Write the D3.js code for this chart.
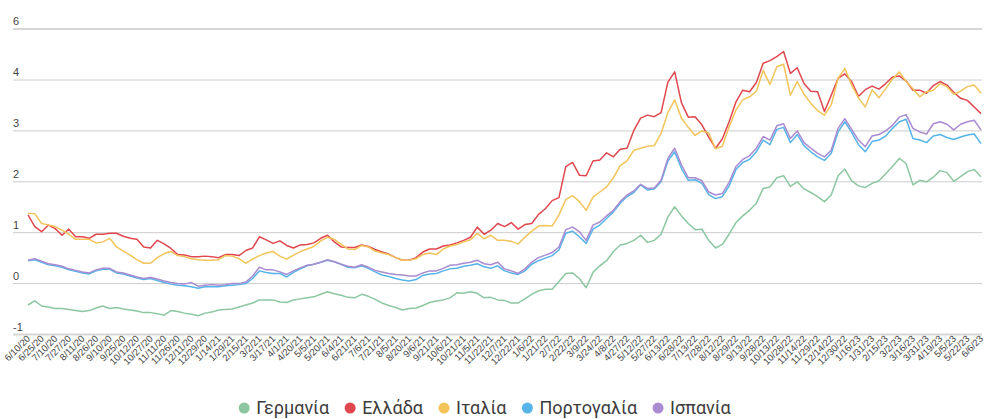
<!DOCTYPE html>
<html>
<head>
<meta charset="utf-8">
<script src="https://cdn.jsdelivr.net/npm/d3@7"></script>
<style>
body { margin: 0; background: #fff; }
svg { display: block; font-family: Roboto, Arial, sans-serif; }
.grid .domain { display: none; }
.grid line { stroke: #cccccc; stroke-width: 1; }
.grid text { fill: #444; font-size: 11px; }
.xaxis .domain { display: none; }
.xaxis text { fill: #444; font-size: 9.5px; }
.series { fill: none; stroke-width: 1.5; stroke-linejoin: round; }
.legend text { fill: #3c3c3c; font-size: 18px; }
</style>
</head>
<body>
<script>
// tick labels on the x axis, one every second sample
var tickLabels = ["6/10/20","6/25/20","7/10/20","7/27/20","8/11/20","8/26/20","9/10/20","9/25/20",
  "10/12/20","10/27/20","11/11/20","11/26/20","12/11/20","12/29/20","1/14/21","1/29/21","2/15/21",
  "3/2/21","3/17/21","4/1/21","4/20/21","5/5/21","5/20/21","6/4/21","6/21/21","7/6/21","7/21/21",
  "8/5/21","8/20/21","9/6/21","9/21/21","10/6/21","10/21/21","11/5/21","11/22/21","12/7/21",
  "12/22/21","1/6/22","1/21/22","2/7/22","2/22/22","3/9/22","3/24/22","4/8/22","4/27/22","5/12/22",
  "5/27/22","6/13/22","6/28/22","7/13/22","7/28/22","8/12/22","8/29/22","9/13/22","9/28/22",
  "10/13/22","10/28/22","11/14/22","11/29/22","12/14/22","12/30/22","1/16/23","1/31/23","2/15/23",
  "3/2/23","3/16/23","3/31/23","4/19/23","5/5/23","5/22/23","6/6/23"];

var yTicks = [-1, 0, 1, 2, 3, 4, 5];
var yTickLabels = ["-1", "0", "1", "2", "3", "4", "6"];

// yields, 141 samples each
var germany = [-0.43,-0.35,-0.45,-0.47,-0.50,-0.50,-0.52,-0.54,-0.56,-0.54,-0.49,-0.45,-0.50,-0.48,-0.51,-0.53,-0.55,-0.58,-0.58,-0.60,-0.63,-0.54,-0.56,-0.59,
  -0.61,-0.64,-0.59,-0.57,-0.53,-0.52,-0.51,-0.47,-0.43,-0.39,-0.33,-0.33,-0.33,-0.37,-0.38,-0.33,-0.31,-0.29,-0.27,-0.22,-0.17,-0.21,-0.24,
  -0.28,-0.29,-0.22,-0.26,-0.32,-0.39,-0.44,-0.48,-0.53,-0.50,-0.49,-0.44,-0.38,-0.35,-0.33,-0.29,-0.19,-0.20,-0.17,-0.20,-0.29,-0.28,-0.33,
  -0.34,-0.39,-0.39,-0.31,-0.22,-0.15,-0.12,-0.12,0.03,0.19,0.20,0.09,-0.09,0.21,0.34,0.44,0.62,0.75,0.78,0.84,0.94,0.80,0.84,0.96,
  1.30,1.50,1.32,1.17,1.05,1.06,0.84,0.69,0.76,0.96,1.19,1.32,1.43,1.57,1.86,1.89,2.07,2.11,1.90,1.99,1.85,1.78,1.70,1.60,
  1.73,2.11,2.24,2.01,1.91,1.88,1.96,2.01,2.15,2.29,2.45,2.35,1.93,2.02,1.99,2.08,2.21,2.17,2.00,2.09,2.19,2.23,2.09];

var greece = [1.34,1.11,1.01,1.14,1.07,0.94,1.06,0.91,0.91,0.88,0.96,0.96,0.98,0.98,0.92,0.88,0.86,0.71,0.69,0.84,0.77,0.68,0.56,0.55,
  0.52,0.52,0.53,0.52,0.50,0.56,0.56,0.54,0.64,0.69,0.91,0.85,0.78,0.83,0.74,0.69,0.75,0.76,0.79,0.88,0.94,0.81,0.71,
  0.70,0.70,0.75,0.72,0.66,0.61,0.57,0.50,0.45,0.45,0.50,0.61,0.67,0.67,0.73,0.75,0.79,0.84,0.90,1.10,0.96,1.04,1.17,
  1.11,1.19,1.06,1.15,1.17,1.35,1.46,1.62,1.68,2.29,2.37,2.12,2.11,2.40,2.42,2.56,2.48,2.63,2.65,3.00,3.24,3.30,3.27,3.35,
  3.95,4.15,3.54,3.26,3.27,3.11,2.87,2.65,2.83,3.17,3.56,3.79,3.76,3.94,4.32,4.37,4.45,4.55,4.12,4.23,3.92,3.77,3.76,3.37,
  3.69,4.02,4.11,3.96,3.67,3.80,3.87,3.81,3.92,4.05,4.07,3.97,3.79,3.79,3.73,3.88,3.96,3.89,3.75,3.63,3.59,3.46,3.33];

var italy = [1.37,1.36,1.17,1.14,1.11,1.04,0.96,0.86,0.86,0.86,0.79,0.81,0.88,0.71,0.63,0.55,0.46,0.39,0.39,0.50,0.58,0.62,0.54,0.52,
  0.48,0.46,0.45,0.45,0.46,0.54,0.53,0.48,0.39,0.47,0.54,0.59,0.62,0.53,0.47,0.55,0.62,0.67,0.72,0.83,0.90,0.86,0.76,
  0.67,0.66,0.74,0.71,0.63,0.59,0.56,0.50,0.45,0.45,0.48,0.56,0.59,0.56,0.67,0.73,0.76,0.81,0.85,0.98,0.87,0.94,0.84,
  0.84,0.82,0.77,0.90,1.02,1.12,1.13,1.12,1.34,1.64,1.72,1.60,1.43,1.69,1.79,1.89,2.07,2.31,2.40,2.61,2.65,2.69,2.70,2.94,
  3.35,3.60,3.24,3.06,2.90,2.99,2.95,2.64,2.69,3.07,3.40,3.60,3.66,3.77,4.18,3.90,4.25,4.30,3.69,3.96,3.71,3.53,3.39,3.30,
  3.50,4.02,4.22,3.89,3.64,3.46,3.80,3.64,3.82,4.01,4.15,3.96,3.82,3.66,3.76,3.79,3.92,3.86,3.71,3.77,3.86,3.89,3.73];

var portugal = [0.44,0.46,0.41,0.36,0.34,0.31,0.26,0.23,0.20,0.18,0.24,0.27,0.27,0.20,0.18,0.14,0.10,0.07,0.09,0.05,0.01,-0.02,-0.04,-0.05,
  -0.07,-0.10,-0.07,-0.07,-0.07,-0.05,-0.04,-0.03,-0.01,0.09,0.24,0.21,0.19,0.19,0.12,0.21,0.28,0.34,0.37,0.41,0.45,0.42,0.37,
  0.31,0.30,0.34,0.29,0.22,0.16,0.13,0.09,0.06,0.04,0.07,0.15,0.18,0.19,0.24,0.28,0.29,0.33,0.35,0.38,0.32,0.29,0.34,
  0.24,0.20,0.17,0.24,0.37,0.44,0.49,0.54,0.65,0.98,1.02,0.91,0.78,1.06,1.14,1.27,1.40,1.57,1.70,1.78,1.93,1.83,1.85,1.99,
  2.40,2.58,2.25,2.02,2.03,1.96,1.74,1.66,1.70,1.91,2.23,2.37,2.43,2.58,2.81,2.72,3.02,3.06,2.76,2.92,2.70,2.58,2.48,2.41,
  2.55,2.97,3.17,2.96,2.72,2.58,2.78,2.81,2.89,3.04,3.17,3.22,2.84,2.81,2.76,2.89,2.92,2.86,2.82,2.87,2.91,2.93,2.74];

var spain = [0.45,0.48,0.43,0.38,0.36,0.33,0.28,0.25,0.22,0.20,0.26,0.29,0.29,0.22,0.20,0.16,0.12,0.09,0.11,0.08,0.04,0.01,-0.01,-0.02,
  0.01,-0.06,-0.04,-0.03,-0.04,-0.03,-0.01,-0.01,0.02,0.14,0.31,0.26,0.26,0.22,0.17,0.24,0.30,0.35,0.37,0.41,0.46,0.42,0.37,
  0.33,0.31,0.36,0.31,0.25,0.22,0.19,0.17,0.16,0.14,0.14,0.20,0.24,0.24,0.29,0.35,0.36,0.39,0.41,0.45,0.38,0.36,0.41,
  0.28,0.24,0.19,0.28,0.41,0.50,0.55,0.60,0.71,1.05,1.10,1.01,0.84,1.14,1.20,1.32,1.43,1.60,1.73,1.81,1.94,1.86,1.87,2.02,
  2.45,2.65,2.32,2.07,2.07,2.01,1.79,1.73,1.76,1.98,2.29,2.43,2.50,2.65,2.88,2.81,3.09,3.13,2.84,2.99,2.76,2.65,2.55,2.48,
  2.61,3.04,3.23,3.02,2.81,2.68,2.89,2.92,2.99,3.10,3.26,3.31,3.04,2.97,2.93,3.13,3.17,3.12,3.01,3.12,3.17,3.20,3.01];

var series = [
  { name: "Γερμανία", color: "#8cc7a1", values: germany },
  { name: "Ελλάδα", color: "#e0474e", values: greece },
  { name: "Ιταλία", color: "#f2c45a", values: italy },
  { name: "Πορτογαλία", color: "#56b4e9", values: portugal },
  { name: "Ισπανία", color: "#a98bd1", values: spain }
];

var width = 985, height = 419;

var svg = d3.select("body").append("svg")
  .attr("width", width)
  .attr("height", height);

var x = d3.scaleLinear().domain([0, germany.length - 1]).range([28, 981]);
var y = d3.scaleLinear().domain([-1, 5]).range([334, 28.6]);

// gridlines + y labels
var grid = svg.append("g")
  .attr("class", "grid")
  .attr("transform", "translate(13,0)")
  .call(d3.axisRight(y).tickValues(yTicks).tickSize(969)
    .tickFormat(function (d, i) { return yTickLabels[i]; }));
grid.selectAll("text").attr("x", 0).attr("dy", "-0.35em").style("text-anchor", "start");
grid.selectAll(".tick line")
  .filter(function (d) { return d == -1 || d == 5; })
  .style("stroke", "#d6d6d6").style("stroke-width", 2);

// x axis labels
var xAxis = svg.append("g")
  .attr("class", "xaxis")
  .attr("transform", "translate(0,337)")
  .call(d3.axisBottom(x).tickValues(d3.range(0, germany.length, 2)).tickSize(0)
    .tickFormat(function (d) { return tickLabels[d / 2]; }));
xAxis.selectAll("text")
  .attr("y", 0).attr("dy", "0.35em").attr("dx", 0)
  .attr("transform", "rotate(-45)")
  .style("text-anchor", "end");

var line = d3.line()
  .x(function (d, i) { return x(i); })
  .y(function (d) { return y(d); });

svg.append("g").selectAll("path")
  .data(series)
  .enter().append("path")
  .attr("class", "series")
  .attr("stroke", function (d) { return d.color; })
  .attr("d", function (d) { return line(d.values); });

// legend
var legend = svg.append("g").attr("class", "legend");
var items = legend.selectAll("g").data(series).enter().append("g");
items.append("circle").attr("r", 5.5).attr("cy", -6).attr("fill", function (d) { return d.color; });
items.append("text").attr("x", 12).text(function (d) { return d.name; });

var pos = 0, offsets = [];
items.each(function (d) {
  offsets.push(pos);
  pos += 12 + this.querySelector("text").getComputedTextLength() + 21;
});
var total = pos - 21;
var start = 482 - total / 2 + 5.5;
items.attr("transform", function (d, i) { return "translate(" + (start + offsets[i]) + ",414)"; });
</script>
</body>
</html>
